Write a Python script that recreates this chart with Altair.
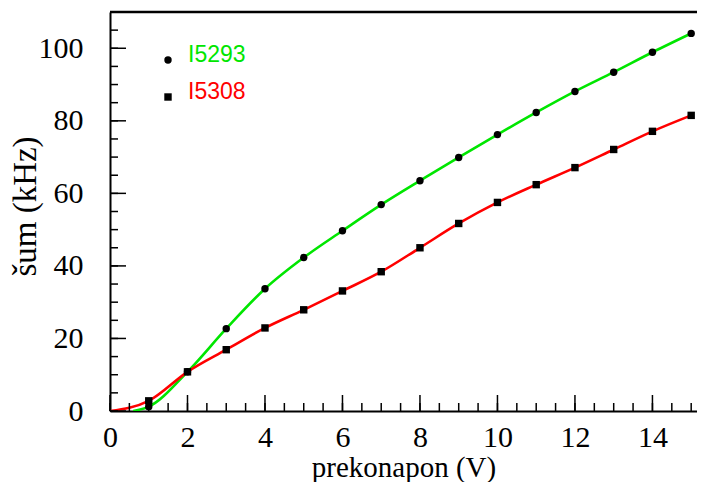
import altair as alt
import pandas as pd

# ---- data ----
x_vals = [1, 2, 3, 4, 5, 6, 7, 8, 9, 10, 11, 12, 13, 14, 15]
i5293 = [1.2, 10.8, 22.7, 33.7, 42.3, 49.7, 56.9, 63.5, 69.9, 76.2, 82.3, 88.1, 93.4, 98.9, 104.1]
i5308 = [2.8, 10.8, 16.9, 22.9, 27.9, 33.1, 38.4, 45.0, 51.7, 57.5, 62.4, 67.1, 72.1, 77.1, 81.5]
# where each smooth curve starts on the x axis
i5293_curve_start = (0.6, 0.0)
i5308_curve_start = (0.0, 0.0)

series_names = ["I5293", "I5308"]
series_colors = ["#00e600", "#ff0000"]
series_shapes = ["circle", "square"]

x_major = [0, 2, 4, 6, 8, 10, 12, 14]
x_minor = [0, 0.5, 1, 1.5, 2, 2.5, 3, 3.5, 4, 4.5, 5, 5.5, 6, 6.5, 7, 7.5,
           8, 8.5, 9, 9.5, 10, 10.5, 11, 11.5, 12, 12.5, 13, 13.5, 14, 14.5, 15]
y_major = [0, 20, 40, 60, 80, 100]
y_minor = [0, 5, 10, 15, 20, 25, 30, 35, 40, 45, 50, 55, 60, 65, 70, 75, 80,
           85, 90, 95, 100, 105]

# ---- tables ----
pts = pd.DataFrame(
    {"x": x_vals * 2,
     "y": i5293 + i5308,
     "series": [series_names[0]] * len(x_vals) + [series_names[1]] * len(x_vals)}
)
curve = pd.DataFrame(
    {"x": [i5293_curve_start[0]] + x_vals + [i5308_curve_start[0]] + x_vals,
     "y": [i5293_curve_start[1]] + i5293 + [i5308_curve_start[1]] + i5308,
     "series": [series_names[0]] * (len(x_vals) + 1) + [series_names[1]] * (len(x_vals) + 1)}
)
legend_df = pd.DataFrame({"series": series_names})
xmaj_df = pd.DataFrame({"v": x_major})
xmin_df = pd.DataFrame({"v": x_minor})
ymaj_df = pd.DataFrame({"v": y_major})
ymin_df = pd.DataFrame({"v": y_minor})
one_df = pd.DataFrame({"k": [0]})

SERIF = "Liberation Serif"
SANS = "Liberation Sans"
W, H = 587, 399

xs = alt.Scale(domain=[0, 15.15], nice=False, zero=False)
ys = alt.Scale(domain=[0, 110], nice=False, zero=False)
color_scale = alt.Scale(domain=series_names, range=series_colors)
shape_scale = alt.Scale(domain=series_names, range=series_shapes)
legend_y = alt.Scale(type="point", domain=series_names, range=[48, 85], padding=0)

x_main = alt.Axis(orient="bottom", values=x_major, ticks=False, tickSize=0, grid=False,
                  domain=True, domainColor="black", domainWidth=2,
                  labelFont=SERIF, labelFontSize=30, labelColor="black",
                  labelPadding=35, labelBaseline="alphabetic", labelFlush=False,
                  labelOverlap=False,
                  title="prekonapon (V)", titleFont=SERIF, titleFontSize=29,
                  titleFontWeight="normal", titleColor="black",
                  titleY=65, titleBaseline="alphabetic")
y_main = alt.Axis(orient="left", values=y_major, ticks=False, tickSize=0, grid=False,
                  domain=True, domainColor="black", domainWidth=2,
                  labelFont=SERIF, labelFontSize=30, labelColor="black",
                  labelPadding=27, labelFlush=False, labelOverlap=False,
                  title="šum (kHz)", titleFont=SERIF, titleFontSize=33,
                  titleFontWeight="normal", titleColor="black",
                  titleAngle=270, titleX=-75, titleY=194,
                  titleBaseline="alphabetic", titleAlign="center")

lines = alt.Chart(curve).mark_line(interpolate="monotone", strokeWidth=2.6, clip=True).encode(
    x=alt.X("x:Q", scale=xs, axis=x_main),
    y=alt.Y("y:Q", scale=ys, axis=y_main),
    color=alt.Color("series:N", scale=color_scale, legend=None),
    detail="series:N",
)

points = alt.Chart(pts).mark_point(filled=True, color="black", opacity=1, size=55).encode(
    x=alt.X("x:Q", scale=xs),
    y=alt.Y("y:Q", scale=ys, axis=None),
    shape=alt.Shape("series:N", scale=shape_scale, legend=None),
)

# inward ticks
tick_style = dict(color="black", strokeWidth=1.5)
x_minor_ticks = alt.Chart(xmin_df).mark_rule(**tick_style).encode(
    x=alt.X("v:Q", scale=xs), y=alt.value(H), y2=alt.value(H - 8))
x_major_ticks = alt.Chart(xmaj_df).mark_rule(**tick_style).encode(
    x=alt.X("v:Q", scale=xs), y=alt.value(H), y2=alt.value(H - 16))
y_minor_ticks = alt.Chart(ymin_df).mark_rule(**tick_style).encode(
    y=alt.Y("v:Q", scale=ys, axis=None), x=alt.value(0), x2=alt.value(8))
y_major_ticks = alt.Chart(ymaj_df).mark_rule(**tick_style).encode(
    y=alt.Y("v:Q", scale=ys, axis=None), x=alt.value(0), x2=alt.value(16))

# top frame line
top_frame = alt.Chart(one_df).mark_rule(color="black", strokeWidth=2.5).encode(
    x=alt.value(0), x2=alt.value(W + 20), y=alt.value(0))

# hand-placed legend
legend_sym = alt.Chart(legend_df).mark_point(filled=True, color="black", opacity=1, size=55).encode(
    x=alt.value(58),
    y=alt.Y("series:N", scale=legend_y, axis=None),
    shape=alt.Shape("series:N", scale=shape_scale, legend=None),
)
legend_txt = alt.Chart(legend_df).mark_text(
    align="left", baseline="middle", dy=-5, font=SANS, fontSize=23
).encode(
    x=alt.value(78),
    y=alt.Y("series:N", scale=legend_y, axis=None),
    text="series:N",
    color=alt.Color("series:N", scale=color_scale, legend=None),
)

chart = alt.layer(
    lines, x_minor_ticks, x_major_ticks, y_minor_ticks, y_major_ticks, top_frame,
    points, legend_sym, legend_txt
).resolve_scale(y="independent").properties(
    width=W, height=H,
    autosize=alt.AutoSizeParams(type="none"),
    padding={"left": 102, "top": 4, "right": 0, "bottom": 71},
    background="white",
).configure_view(strokeOpacity=0)

chart.save("out.html", embed_options={"renderer": "svg", "actions": False})
